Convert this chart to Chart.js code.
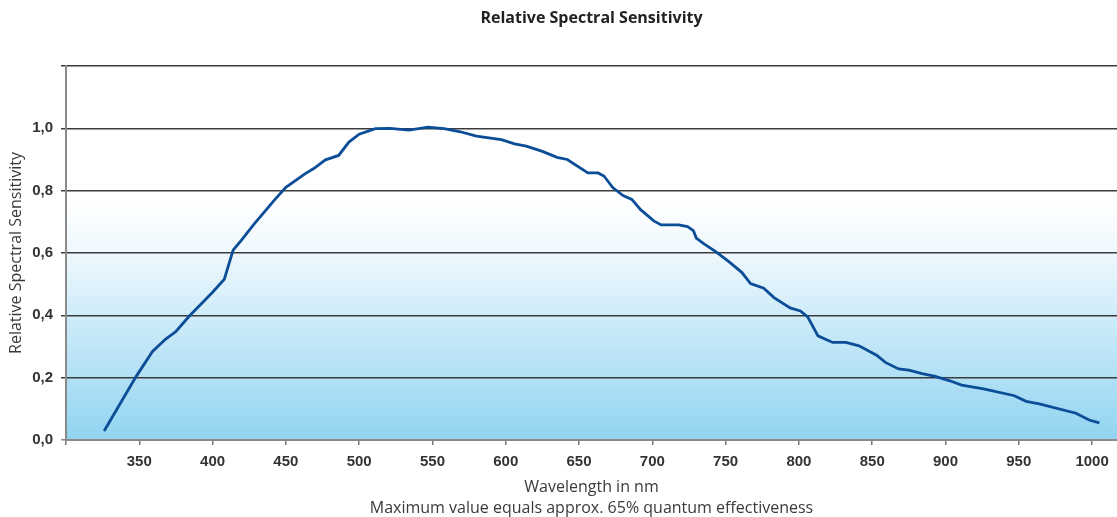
<!DOCTYPE html>
<html>
<head>
<meta charset="utf-8">
<script src="https://cdn.jsdelivr.net/npm/chart.js@4"></script>
<style>
  html, body { margin: 0; padding: 0; background: #ffffff; }
  #wrap { width: 1117px; height: 517px; position: relative; }
</style>
</head>
<body>
<div id="wrap"><canvas id="c"></canvas></div>
<script>
// ---- data ----
const wavelengths = [326, 348, 359, 368, 375, 384, 400, 408, 414, 420,
  428, 442, 450, 463, 469, 477, 486, 493, 500, 511,
  521, 534, 547, 558, 569, 580, 597, 606, 614, 625,
  635, 642, 656, 663, 667, 673, 680, 686, 692, 701,
  706, 718, 724, 728, 730, 735, 743, 752, 761, 767,
  776, 783, 794, 801, 806, 813, 823, 832, 841, 853,
  859, 868, 875, 884, 893, 903, 911, 926, 947, 955,
  964, 989, 998, 1005];
const sensitivity = [0.029, 0.205, 0.284, 0.324, 0.348, 0.397, 0.474, 0.516, 0.609, 0.643,
  0.691, 0.769, 0.811, 0.854, 0.871, 0.899, 0.913, 0.956, 0.981, 0.999,
  1.000, 0.994, 1.004, 0.999, 0.989, 0.975, 0.964, 0.950, 0.943, 0.926,
  0.907, 0.900, 0.857, 0.857, 0.847, 0.810, 0.784, 0.772, 0.739, 0.703,
  0.690, 0.690, 0.685, 0.672, 0.648, 0.630, 0.605, 0.573, 0.538, 0.502,
  0.487, 0.457, 0.424, 0.414, 0.395, 0.334, 0.313, 0.313, 0.302, 0.272,
  0.249, 0.228, 0.224, 0.213, 0.204, 0.190, 0.176, 0.164, 0.142, 0.124,
  0.116, 0.086, 0.064, 0.055];
const xTicks = [300, 350, 400, 450, 500, 550, 600, 650, 700, 750, 800, 850, 900, 950, 1000];
const xTickLabels = ['', '350', '400', '450', '500', '550', '600', '650', '700', '750', '800', '850', '900', '950', '1000'];
const yTicks = [0, 0.2, 0.4, 0.6, 0.8, 1.0, 1.2];
const yTickLabels = ['0,0', '0,2', '0,4', '0,6', '0,8', '1,0', ''];
const titleText = 'Relative Spectral Sensitivity';
const yTitle = 'Relative Spectral Sensitivity';
const xTitle = ['Wavelength in nm', 'Maximum value equals approx. 65% quantum effectiveness'];

const points = wavelengths.map((w, i) => ({ x: w, y: sensitivity[i] }));

const bgPlugin = {
  id: 'plotBg',
  beforeDraw(chart) {
    const { ctx, chartArea: a } = chart;
    const g = ctx.createLinearGradient(0, a.top, 0, a.bottom);
    g.addColorStop(0, '#ffffff');
    g.addColorStop(0.36, '#ffffff');
    g.addColorStop(0.5, '#eef8fd');
    g.addColorStop(1, '#92d4f1');
    ctx.save();
    ctx.fillStyle = g;
    ctx.fillRect(a.left, a.top, a.right - a.left, a.bottom - a.top);
    ctx.restore();
  }
};

const tickFont = { family: '"Liberation Sans Narrow", "Liberation Sans", Arial', size: 15, weight: 'bold' };
const textFamily = '"Open Sans", "DejaVu Sans"';

new Chart(document.getElementById('c'), {
  type: 'line',
  data: {
    datasets: [{
      data: points,
      borderColor: '#0b4d97',
      borderWidth: 2.8,
      pointRadius: 0,
      tension: 0,
      fill: false
    }]
  },
  options: {
    responsive: true,
    maintainAspectRatio: false,
    devicePixelRatio: 1,
    animation: false,
    layout: { padding: { left: 0, right: 0, top: 0, bottom: 0 } },
    plugins: {
      legend: { display: false },
      tooltip: { enabled: false },
      title: {
        display: true,
        text: titleText,
        fullSize: false,
        color: '#222222',
        font: { family: textFamily, size: 16, weight: 'bold', lineHeight: 1.2 },
        padding: { top: 8.5, bottom: 38.3 }
      }
    },
    scales: {
      x: {
        type: 'linear',
        min: 300,
        max: 1017,
        afterBuildTicks(scale) { scale.ticks = xTicks.map(v => ({ value: v })); },
        afterFit(scale) { scale.height = 77; },
        ticks: {
          autoSkip: false,
          maxRotation: 0,
          padding: 8,
          color: '#333333',
          font: tickFont,
          callback: (v) => { const i = xTicks.indexOf(v); return i >= 0 ? xTickLabels[i] : ''; }
        },
        grid: { drawOnChartArea: false, drawTicks: true, tickLength: 5, color: '#777777', lineWidth: 1.5 },
        border: { display: true, color: '#8a8a8a', width: 2 },
        title: {
          display: true,
          text: xTitle,
          color: '#3a3a3a',
          font: { family: textFamily, size: 16, lineHeight: 1.3125 },
          padding: { top: 0, bottom: -2 }
        }
      },
      y: {
        type: 'linear',
        min: 0,
        max: 1.2,
        afterBuildTicks(scale) { scale.ticks = yTicks.map(v => ({ value: v })); },
        afterFit(scale) { scale.width = 66; },
        ticks: {
          padding: 8,
          color: '#333333',
          font: tickFont,
          callback: (v) => { const i = yTicks.findIndex(t => Math.abs(t - v) < 1e-6); return i >= 0 ? yTickLabels[i] : ''; }
        },
        grid: {
          drawOnChartArea: true,
          drawTicks: true,
          tickLength: 5,
          color: (c) => (c.tick && c.tick.value === 0) ? '#8a8a8a' : '#3c3c3c',
          lineWidth: 1.5
        },
        border: { display: true, color: '#8a8a8a', width: 2 },
        title: {
          display: true,
          text: yTitle,
          color: '#3a3a3a',
          font: { family: textFamily, size: 16, lineHeight: 1.2 },
          padding: { top: 6.5, bottom: 0 }
        }
      }
    }
  },
  plugins: [bgPlugin]
});
</script>
</body>
</html>
